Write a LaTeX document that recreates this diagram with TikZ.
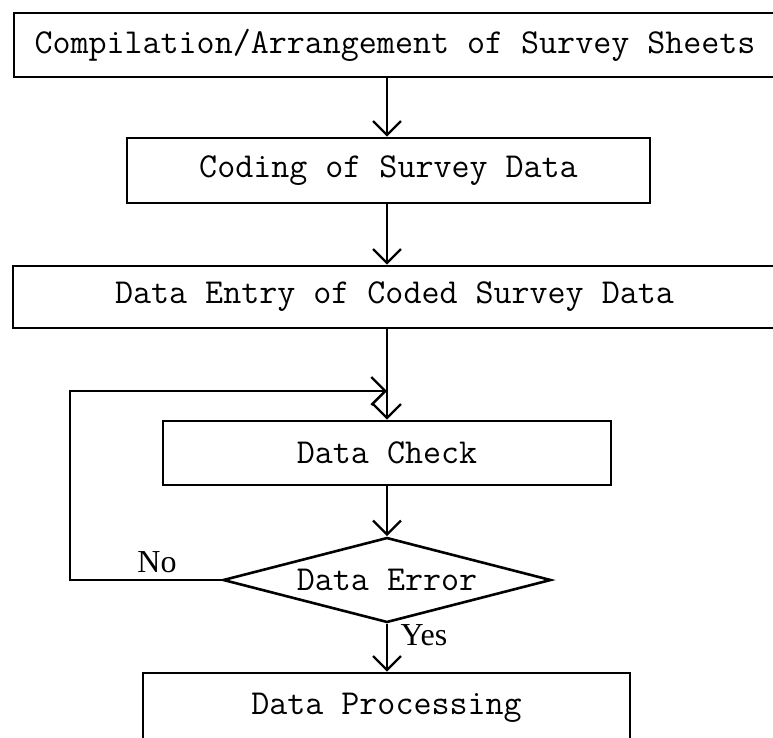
\documentclass[tikz,border=0pt]{standalone}
\usepackage{fontspec}
\setmainfont{Liberation Serif}
\usetikzlibrary{shapes.geometric,arrows.meta}
\begin{document}
\begin{tikzpicture}[x=1pt,y=-1pt,
  flow/.style={draw, line width=2.6pt, inner sep=0pt,
    font=\ttfamily\fontsize{35}{40}\selectfont},
  stepbox/.style={flow, rectangle},
  decision/.style={flow, diamond, aspect=3.86},
  arr/.style={line width=2.4pt, -{Straight Barb[length=14pt,width=28pt]}},
  lab/.style={inner sep=0pt, font=\rmfamily\fontsize{32}{36}\selectfont}]
\useasboundingbox (0,0) rectangle (773,737);
\clip (0,0) rectangle (773,737);

% process boxes
\node[stepbox, minimum width=762pt, minimum height=64pt] (b1) at (395,45)
  {Compilation/Arrangement of Survey Sheets};
\node[stepbox, minimum width=523pt, minimum height=65pt] (b2) at (388.5,170.5)
  {Coding of Survey Data};
\node[stepbox, minimum width=763pt, minimum height=62pt] (b3) at (394.5,297)
  {Data Entry of Coded Survey Data};
\node[stepbox, minimum width=448pt, minimum height=64pt] (dc) at (387,453)
  {Data Check};
\node[decision, minimum width=328pt, minimum height=85pt] (de) at (387,580)
  {Data Error};
\node[stepbox, minimum width=487pt, minimum height=70pt] (dp) at (386.5,708)
  {Data Processing};

% main flow axis and loop points
\coordinate (axis) at (387,0);
\coordinate (join) at (387,391);
\coordinate (loopc) at (70,391);

\draw[arr] (b1.south -| axis) -- (b2.north -| axis);
\draw[arr] (b2.south -| axis) -- (b3.north -| axis);
\draw[arr] (b3.south -| axis) -- (dc.north -| axis);
\draw[arr] (dc.south -| axis) -- (de.north);
\draw[arr] (de.south) -- (dp.north -| de.south);
\draw[arr] (de.west) -| (loopc) -- (join);

% branch labels
\node[lab] (no) at (157,562) {No};
\node[lab] (yes) at (424,635) {Yes};
\end{tikzpicture}
\end{document}
